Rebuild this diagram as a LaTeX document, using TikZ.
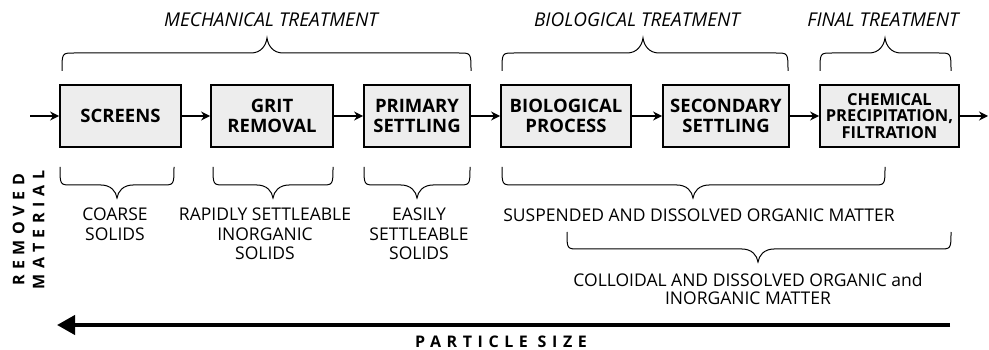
\documentclass[tikz,border=0pt]{standalone}
\usepackage{fontspec}
\setmainfont{Open Sans}
\usetikzlibrary{arrows.meta}
\newcommand\mybrace[6]{\draw[bracestyle] (#1,#4) .. controls (#1,#5) .. ({#1+12},#5) -- ({#3-16},#5) .. controls ({#3-6},#5) and ({#3-1},{(#5+#6)/2}) .. (#3,#6) .. controls ({#3+1},{(#5+#6)/2}) and ({#3+6},#5) .. ({#3+16},#5) -- ({#2-12},#5) .. controls (#2,#5) .. (#2,#4);}
\begin{document}
\begin{tikzpicture}[x=1pt,y=-1pt,
  box/.style={draw=black, line width=1.8pt, fill=boxgray, minimum height=62pt, inner sep=0pt, align=center,
              font=\fontsize{18.5}{19.5}\selectfont\bfseries},
  smallbox/.style={box, font=\fontsize{16.5}{16.8}\selectfont\bfseries},
  flow/.style={line width=1.8pt, -{Stealth[length=9pt,width=9pt]}},
  bigarrow/.style={line width=4pt, -{Triangle[length=18pt,width=19pt]}},
  bracestyle/.style={line width=1pt},
  toplabel/.style={inner sep=0pt, font=\fontsize{19}{20}\selectfont\itshape},
  lowlabel/.style={inner sep=0pt, align=center, font=\fontsize{17.5}{19.5}\selectfont},
  spacedfont/.style={inner sep=0pt, font=\fontsize{16}{20}\selectfont\bfseries\addfontfeature{LetterSpace=35}},
  spaced/.style={spacedfont, align=center}
]
\definecolor{boxgray}{HTML}{EDEDED}
\useasboundingbox (0,0) rectangle (989,350);

% process boxes
\node[box, minimum width=121pt] (scr)  at (120.5,116) {SCREENS};
\node[box, minimum width=122pt] (grit) at (272,116) {GRIT\\REMOVAL};
\node[box, minimum width=106pt] (prim) at (417,116) {PRIMARY\\SETTLING};
\node[box, minimum width=130pt] (bio)  at (566,116) {BIOLOGICAL\\PROCESS};
\node[box, minimum width=126pt] (sec)  at (726,116) {SECONDARY\\SETTLING};
\node[smallbox, minimum width=139pt] (chem) at (889.5,116) {CHEMICAL\\PRECIPITATION,\\FILTRATION};

\coordinate (in)  at (30,116);
\coordinate (out) at (988,116);
\draw[flow] (in) -- (scr);
\draw[flow] (scr) -- (grit);
\draw[flow] (grit) -- (prim);
\draw[flow] (prim) -- (bio);
\draw[flow] (bio) -- (sec);
\draw[flow] (sec) -- (chem);
\draw[flow] (chem) -- (out);

% top braces and labels
\mybrace{62}{471}{267}{71}{53}{38}
\mybrace{502}{788}{643}{71}{53}{38}
\mybrace{820}{951}{885}{71}{53}{38}
\node[toplabel] (mech) at (271,20) {MECHANICAL TREATMENT};
\node[toplabel] (biot) at (637,20) {BIOLOGICAL TREATMENT};
\node[toplabel] (fint) at (883,20) {FINAL TREATMENT};

% bottom braces and labels
\mybrace{60}{174}{117}{167}{185}{198}
\mybrace{213}{333}{273}{167}{185}{198}
\mybrace{364}{470}{417}{167}{185}{198}
\mybrace{502}{885}{693}{167}{185}{198}
\mybrace{567}{951}{758}{232}{249}{262}
\node[lowlabel] (coarse) at (115,224) {COARSE\\SOLIDS};
\node[lowlabel] (rapid) at (265,234) {RAPIDLY SETTLEABLE\\INORGANIC\\SOLIDS};
\node[lowlabel] (easy) at (419,234) {EASILY\\SETTLEABLE\\SOLIDS};
\node[lowlabel] (susp) at (699,215) {SUSPENDED AND DISSOLVED ORGANIC MATTER};
\node[lowlabel, font=\fontsize{17.5}{18.5}\selectfont] (coll) at (748,289) {COLLOIDAL AND DISSOLVED ORGANIC and\\INORGANIC MATTER};

% axis labels
\node[spaced, rotate=90] (removed) at (28.5,230) {REMOVED\\MATERIAL};
\coordinate (ps1) at (950,325);
\coordinate (ps0) at (57,325);
\draw[bigarrow] (ps1) -- (ps0);
\node[spacedfont, anchor=base] (psize) at (501,347) {PARTICLE SIZE};
\end{tikzpicture}
\end{document}
